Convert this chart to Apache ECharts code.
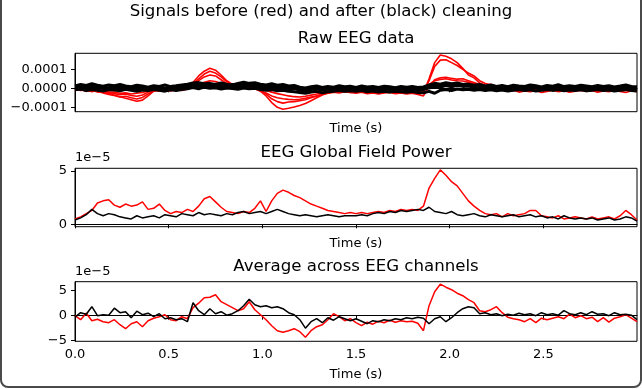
<!DOCTYPE html>
<html>
<head>
<meta charset="utf-8">
<script src="https://cdn.jsdelivr.net/npm/echarts@6/dist/echarts.min.js"></script>
<style>html,body{margin:0;padding:0;background:#fff;}#c{width:642px;height:389px;}</style>
</head>
<body>
<div id="c"></div>
<script>
// sample period (s); values below in units of 1e-5 V
const DT = 0.03;
const xTicks = [0, 0.5, 1.0, 1.5, 2.0, 2.5];
const rawTicks = [-10, 0, 10];
const gfpTicks = [0, 5];
const avgTicks = [-5, 0, 5];

// Raw EEG, channels before cleaning (red)
const rawRed1 = [-0.5,-1.2,-0.6,-1.8,-1.0,-2.0,-2.8,-3.6,-4.4,-5.2,
 -6.0,-6.8,-6.2,-4.0,-1.5,-1.0,-0.6,-1.2,-0.4,-0.8,
 0.5,3.0,6.5,9.0,10.5,9.5,7.0,4.0,2.0,1.5,
 2.0,1.2,0.5,-1.5,-4.0,-7.5,-10.0,-11.0,-10.5,-9.8,
 -9.0,-8.0,-6.5,-5.0,-3.5,-2.5,-2.0,-1.6,-1.8,-2.2,
 -2.0,-1.6,-2.4,-2.0,-2.6,-2.2,-1.8,-2.3,-1.9,-2.5,
 -2.2,-1.8,-2.5,5.0,13.5,17.5,16.8,15.5,13.5,10.5,
 7.0,5.5,2.8,1.5,2.0,1.0,0.5,-0.5,-0.8,-1.2,
 -0.6,-1.4,-0.8,-1.0,-0.5,-1.2,-0.7,-1.5,-0.9,-0.6,
 -1.1,-0.7,-1.3,-0.8,-0.4,-1.0,-0.6,-1.2,-0.8,-0.5,-1.0];
const rawRed2 = [-0.8,-0.2,-1.4,-0.9,-1.6,-2.4,-3.2,-3.8,-4.6,-4.2,
 -5.0,-5.6,-4.8,-3.0,-1.2,-0.5,-1.0,-0.3,-0.9,-0.2,
 0.2,2.0,5.0,7.5,9.0,8.0,6.0,3.5,1.5,1.0,
 1.6,0.8,0.2,-1.0,-3.0,-5.5,-7.0,-7.8,-7.2,-7.0,
 -6.5,-6.0,-5.0,-4.0,-3.0,-2.2,-1.8,-1.2,-1.5,-1.0,
 -1.4,-1.0,-1.8,-1.3,-1.9,-1.5,-1.1,-1.7,-1.4,-1.8,
 -1.5,-1.2,-2.0,4.0,11.5,14.8,15.0,13.5,12.0,10.0,
 8.0,6.5,4.0,2.5,1.8,1.0,0.2,-0.6,-1.0,-0.5,
 -1.0,-0.4,-1.2,-0.6,-0.9,-0.3,-1.1,-0.5,-1.4,-0.8,
 -0.5,-1.2,-0.6,-0.3,-1.0,-0.5,-1.3,-0.7,-0.4,-0.9,-0.6];
const rawRed3 = [-1.2,-0.6,-1.6,-1.0,-2.0,-1.4,-2.2,-2.8,-3.4,-3.0,
 -3.8,-4.2,-3.5,-2.0,-1.0,-1.5,-0.8,-1.4,-0.6,-1.2,
 -0.3,1.5,4.0,6.0,7.0,6.5,4.5,2.5,1.0,0.6,
 1.2,0.6,-0.2,-1.5,-2.5,-4.0,-5.0,-5.5,-5.8,-6.0,
 -5.8,-5.2,-4.6,-4.0,-3.2,-2.6,-2.0,-2.4,-1.8,-2.2,
 -2.6,-2.0,-2.8,-2.4,-3.0,-2.5,-2.2,-2.8,-2.4,-3.0,
 -2.6,-3.2,-4.0,1.0,4.5,5.5,5.8,5.2,4.8,5.0,
 4.0,3.0,2.0,1.2,0.6,-0.2,-0.8,-1.6,-1.0,-2.0,
 -1.4,-1.8,-1.2,-2.2,-1.6,-1.0,-1.8,-1.3,-2.0,-1.5,
 -1.0,-1.7,-1.2,-2.0,-1.4,-1.8,-1.1,-1.6,-2.2,-1.3,-1.8];
const rawRed4 = [-0.3,-1.0,-0.5,-1.5,-0.8,-1.2,-1.8,-2.0,-2.6,-2.4,
 -3.0,-2.6,-2.2,-1.4,-0.6,-0.2,-0.9,0.2,-0.4,0.4,
 0.8,1.6,2.2,3.2,4.0,3.6,2.6,1.8,1.2,0.8,
 1.4,0.9,0.4,-0.4,-1.2,-2.0,-2.8,-3.4,-4.0,-4.4,
 -4.6,-4.2,-3.6,-3.0,-2.2,-1.6,-1.2,-0.6,-1.0,-0.5,
 -0.8,-0.4,-1.0,-0.6,-1.2,-0.7,-0.3,-0.9,-0.5,-1.1,
 -0.8,-0.4,-1.0,2.0,4.0,4.6,5.0,4.4,4.0,3.8,
 3.2,2.4,1.6,0.8,0.3,0.6,-0.2,0.4,-0.5,0.2,
 -0.3,0.4,-0.6,0.1,-0.4,0.5,-0.2,0.3,-0.7,0.0,
 0.4,-0.3,0.2,-0.6,0.1,0.5,-0.4,0.2,0.8,-0.2,-0.5];
// Raw EEG, channels after cleaning (black)
const rawBlack1 = [1.2,2.0,1.5,2.4,1.6,1.1,1.8,1.4,2.0,1.2,
 0.8,1.6,1.2,0.6,1.4,1.0,1.7,0.9,1.3,1.8,
 2.2,2.8,3.0,2.4,2.6,2.0,2.8,2.2,1.8,2.5,
 3.2,2.6,2.9,2.2,1.8,2.4,1.6,2.0,1.2,1.5,
 0.6,0.2,0.8,1.2,0.4,1.0,0.6,1.3,0.8,1.1,
 0.5,1.2,0.7,1.0,0.4,1.1,0.8,0.3,1.0,0.6,
 0.9,0.4,0.7,1.8,2.6,2.2,3.0,2.4,2.8,2.0,
 2.2,1.6,2.0,1.2,1.8,1.0,1.5,0.8,1.6,1.2,
 1.0,1.8,1.3,0.7,1.5,1.1,1.9,0.9,1.4,1.0,
 1.6,1.2,0.8,1.5,1.0,1.3,0.7,1.2,1.8,1.0,0.8];
const rawBlack2 = [0.2,-0.4,0.6,0.0,0.8,-0.2,0.3,0.9,-0.1,0.5,
 -0.3,0.2,-0.6,0.4,-0.2,0.6,0.0,-0.4,0.3,0.7,
 1.0,1.6,1.2,1.8,1.0,1.4,0.8,1.5,1.1,0.7,
 1.6,1.0,1.3,0.6,0.2,0.8,-0.2,0.4,-0.5,-0.1,
 -0.9,-1.4,-0.6,-0.2,-1.0,-0.4,-0.8,0.0,-0.5,-0.2,
 -0.7,-0.1,-0.5,-0.2,-0.9,-0.3,-0.6,-1.0,-0.4,-0.8,
 -0.5,-1.0,-0.6,0.2,0.9,0.6,1.4,0.8,1.6,1.0,
 1.2,0.6,0.9,0.2,0.7,0.0,0.5,-0.2,0.4,0.1,
 -0.1,0.6,0.2,-0.4,0.4,0.0,0.7,-0.3,0.3,-0.1,
 0.5,0.1,-0.4,0.3,-0.2,0.4,-0.5,0.2,0.6,0.0,-0.3];
const rawBlack3 = [-0.8,-0.4,-1.2,-0.6,-1.0,-1.4,-0.7,-0.9,-1.3,-0.5,
 -1.1,-1.6,-0.9,-1.2,-0.6,-1.0,-1.5,-0.8,-1.2,-0.7,
 -0.3,0.4,-0.2,0.6,0.0,0.3,-0.4,0.2,-0.1,-0.5,
 0.2,-0.3,0.0,-0.6,-1.0,-0.7,-1.3,-1.0,-1.6,-1.8,
 -2.2,-2.6,-2.0,-1.6,-2.4,-1.8,-1.5,-1.2,-1.6,-1.3,
 -1.6,-1.2,-1.8,-1.4,-1.9,-1.5,-2.0,-1.6,-1.8,-2.1,
 -1.7,-2.2,-2.4,-1.6,-2.6,-1.0,-0.6,-1.2,-0.4,-0.8,
 -0.5,-1.0,-0.6,-1.2,-0.8,-1.3,-0.9,-1.4,-1.0,-0.7,
 -1.2,-0.8,-1.4,-1.0,-0.6,-1.1,-0.7,-1.3,-0.9,-1.2,
 -0.8,-1.3,-1.0,-0.6,-1.2,-0.9,-1.4,-1.0,-0.7,-1.1,-1.4];
const rawBlack4 = [0.6,1.0,0.2,1.2,0.4,0.9,0.0,1.1,0.5,0.2,
 0.4,-0.2,0.6,0.0,0.8,0.2,-0.1,0.5,0.9,0.3,
 1.4,0.8,1.8,2.0,1.5,2.2,1.6,1.0,2.0,1.4,
 2.2,1.6,1.9,1.4,0.8,1.2,0.6,1.0,0.2,0.6,
 -0.2,-0.6,0.2,0.4,-0.3,0.3,-0.2,0.5,0.1,0.4,
 -0.1,0.5,0.0,0.4,-0.3,0.4,0.1,-0.4,0.3,-0.1,
 0.2,-0.3,0.1,0.8,1.6,1.4,2.0,1.6,2.0,1.4,
 1.6,1.0,1.4,0.6,1.2,0.5,0.9,0.3,1.0,0.6,
 0.4,1.1,0.6,0.2,0.9,0.5,1.2,0.3,0.8,0.4,
 1.0,0.6,0.2,0.9,0.4,0.8,0.2,0.7,1.2,0.5,0.3];

// Global field power (1e-5)
const gfpRed = [0.5,0.7,1.0,1.3,2.0,2.2,2.3,1.8,1.6,1.9,
 1.7,1.8,2.1,1.4,1.5,1.9,1.3,1.0,1.2,1.1,
 1.4,1.2,1.7,2.4,2.6,2.1,1.6,1.2,1.1,1.0,
 1.2,1.1,1.5,2.2,1.2,2.2,2.9,3.2,3.0,2.7,
 2.5,2.2,1.9,1.7,1.5,1.3,1.2,1.1,1.0,1.1,
 1.0,1.1,1.0,1.1,1.2,1.1,1.3,1.2,1.4,1.3,
 1.4,1.3,1.7,3.4,4.3,5.1,4.6,4.0,3.6,2.9,
 2.2,1.7,1.3,1.0,0.9,1.0,0.7,1.0,0.8,0.9,
 1.0,1.3,1.3,0.8,0.7,0.6,0.8,0.5,0.6,0.7,
 0.6,0.5,0.7,0.5,0.6,0.7,0.5,0.8,1.3,0.9,0.4];
const gfpBlack = [0.4,0.6,0.9,1.4,1.0,0.8,1.0,0.9,0.7,0.6,
 0.5,0.8,0.6,0.7,0.8,0.6,0.9,0.8,0.7,1.0,
 0.9,0.8,1.1,0.9,1.0,0.9,0.8,1.0,0.9,1.1,
 1.2,1.0,1.1,1.2,1.0,1.2,1.4,1.2,1.0,0.9,
 0.8,0.9,0.8,0.7,0.8,0.9,0.8,0.7,0.8,0.8,
 0.8,0.9,0.8,1.0,1.1,1.0,1.2,1.1,1.3,1.2,
 1.3,1.4,1.3,1.6,1.2,1.1,1.0,1.2,0.9,0.8,
 0.9,1.0,0.8,0.7,0.9,0.8,0.7,0.8,0.9,0.7,
 0.8,0.9,0.7,0.8,0.6,0.7,0.5,0.8,0.6,0.5,
 0.6,0.5,0.6,0.4,0.5,0.6,0.4,0.5,0.7,0.6,0.3];

// Average across channels (1e-5)
const avgRed = [0.0,-0.8,0.5,-1.0,-0.7,-1.2,-1.4,-0.8,-1.8,-2.6,
 -1.6,-1.2,-2.2,-1.0,-0.5,-0.2,0.2,-0.8,-1.0,-0.2,
 -0.6,1.6,2.5,3.6,3.7,4.2,2.8,2.2,1.6,1.0,
 1.4,2.8,1.2,0.2,-0.8,-2.0,-3.0,-3.3,-3.0,-2.6,
 -3.2,-4.3,-3.0,-2.2,-1.8,-0.8,0.4,-0.2,-1.0,-0.6,
 -1.4,-2.0,-1.3,-1.7,-1.1,-1.4,-0.9,-1.3,-1.0,-1.2,
 -1.1,-1.5,-3.0,2.0,4.8,6.3,5.7,5.2,4.5,4.0,
 3.2,2.6,1.0,0.8,1.2,1.8,0.6,-0.3,-0.6,-0.8,
 -1.2,-0.6,-1.4,-0.5,-0.8,-0.5,-0.2,-0.6,0.3,-0.4,
 0.0,-0.6,-0.3,-1.2,-0.4,-1.3,-0.5,-0.2,0.2,-0.5,-1.2];
const avgBlack = [-0.3,0.6,0.3,1.8,0.0,0.2,0.1,1.5,0.6,0.8,
 -0.4,0.9,0.2,0.5,-0.2,0.4,-0.6,-0.4,-0.8,-0.6,
 -1.2,2.6,1.0,0.2,1.4,0.4,0.8,0.1,0.4,1.0,
 2.0,3.3,2.2,1.8,2.0,1.6,1.8,1.4,0.6,0.2,
 -0.8,-2.5,-1.2,-0.6,-1.4,-0.4,-0.9,-0.2,-0.6,-1.0,
 -0.6,-1.1,-1.6,-1.0,-1.2,-0.8,-1.0,-0.6,-0.8,-0.4,
 -0.6,-0.3,-0.5,-1.6,-0.6,-0.2,-1.2,-0.4,0.6,1.4,
 1.8,1.6,0.4,0.6,0.2,0.4,0.0,0.3,0.1,0.5,
 0.2,0.4,0.0,0.6,0.2,0.4,0.1,1.0,0.4,0.2,
 0.6,0.2,0.8,0.3,0.4,0.0,0.6,0.2,0.3,0.1,-0.8];

const FONT = 'DejaVu Sans';
const pairs = arr => arr.map((v, i) => [+(i * DT).toFixed(3), v]);
const minus = s => String(s).replace('-', '\u2212');

function xAxisCfg(gi, showLabels, nameGap) {
  return {
    type: 'value', gridIndex: gi, min: 0, max: 3.0,
    axisLine: { show: true, lineStyle: { color: '#000', width: 1 } },
    axisTick: { show: true, inside: false, length: 4, customValues: xTicks, lineStyle: { color: '#000' } },
    axisLabel: { show: showLabels, customValues: xTicks, margin: 7, color: '#000', fontFamily: FONT, fontSize: 13,
      formatter: v => v.toFixed(1) },
    splitLine: { show: false },
    name: 'Time (s)', nameLocation: 'middle', nameGap: nameGap,
    nameTextStyle: { color: '#000', fontFamily: FONT, fontSize: 13 }
  };
}
function yAxisCfg(gi, min, max, ticks, fmt) {
  return {
    type: 'value', gridIndex: gi, min: min, max: max,
    axisLine: { show: true, lineStyle: { color: '#000', width: 1 } },
    axisTick: { show: true, inside: false, length: 4, customValues: ticks, lineStyle: { color: '#000' } },
    axisLabel: { customValues: ticks, margin: 8, color: '#000', fontFamily: FONT, fontSize: 13, formatter: fmt },
    splitLine: { show: false }
  };
}
function line(gi, arr, color, w) {
  return {
    type: 'line', xAxisIndex: gi, yAxisIndex: gi, data: pairs(arr),
    showSymbol: false, symbol: 'none', silent: true,
    lineStyle: { color: color, width: w }, clip: true
  };
}

const grid = {
  show: true, borderColor: '#000', borderWidth: 1, left: 75, width: 562
};

const option = {
  animation: false,
  backgroundColor: '#fff',
  grid: [
    Object.assign({}, grid, { top: 53.3, height: 58.4 }),
    Object.assign({}, grid, { top: 168.3, height: 58.4 }),
    Object.assign({}, grid, { top: 281.7, height: 59.6 })
  ],
  xAxis: [xAxisCfg(0, false, 10), xAxisCfg(1, false, 10), xAxisCfg(2, true, 27)],
  yAxis: [
    yAxisCfg(0, -12.3, 18.4, rawTicks, v => minus((v * 1e-5).toFixed(4))),
    yAxisCfg(1, -0.225, 5.25, gfpTicks, v => minus(v)),
    yAxisCfg(2, -5.12, 6.8, avgTicks, v => minus(v))
  ],
  series: [
    line(0, rawRed1, '#ff0000', 1.6),
    line(0, rawRed2, '#ff0000', 1.6),
    line(0, rawRed3, '#ff0000', 1.6),
    line(0, rawRed4, '#ff0000', 1.6),
    line(0, rawBlack1, '#000000', 3),
    line(0, rawBlack4, '#000000', 3),
    line(0, rawBlack2, '#000000', 3),
    line(0, rawBlack3, '#000000', 3),
    line(1, gfpRed, '#ff0000', 1.5),
    line(1, gfpBlack, '#000000', 1.5),
    line(2, avgRed, '#ff0000', 1.5),
    line(2, avgBlack, '#000000', 1.5)
  ],
  graphic: [
    { type: 'text', x: 321, y: 12, style: { text: 'Signals before (red) and after (black) cleaning', fill: '#000', font: '16.6px "DejaVu Sans"', textAlign: 'center', textVerticalAlign: 'middle' } },
    { type: 'text', x: 356, y: 39, style: { text: 'Raw EEG data', fill: '#000', font: '16.6px "DejaVu Sans"', textAlign: 'center', textVerticalAlign: 'middle' } },
    { type: 'text', x: 356, y: 153, style: { text: 'EEG Global Field Power', fill: '#000', font: '16.6px "DejaVu Sans"', textAlign: 'center', textVerticalAlign: 'middle' } },
    { type: 'text', x: 356, y: 267, style: { text: 'Average across EEG channels', fill: '#000', font: '16.6px "DejaVu Sans"', textAlign: 'center', textVerticalAlign: 'middle' } },
    { type: 'text', x: 75, y: 158, style: { text: '1e\u22125', fill: '#000', font: '13px "DejaVu Sans"', textAlign: 'left', textVerticalAlign: 'middle' } },
    { type: 'text', x: 75, y: 272, style: { text: '1e\u22125', fill: '#000', font: '13px "DejaVu Sans"', textAlign: 'left', textVerticalAlign: 'middle' } },
    { type: 'rect', shape: { x: 1, y: -20, width: 640, height: 407, r: 7 }, style: { fill: 'none', stroke: '#4a4a4a', lineWidth: 2 }, silent: true, z: 100 }
  ]
};

const chart = echarts.init(document.getElementById('c'), null, { renderer: 'canvas' });
chart.setOption(option);
</script>
</body>
</html>
